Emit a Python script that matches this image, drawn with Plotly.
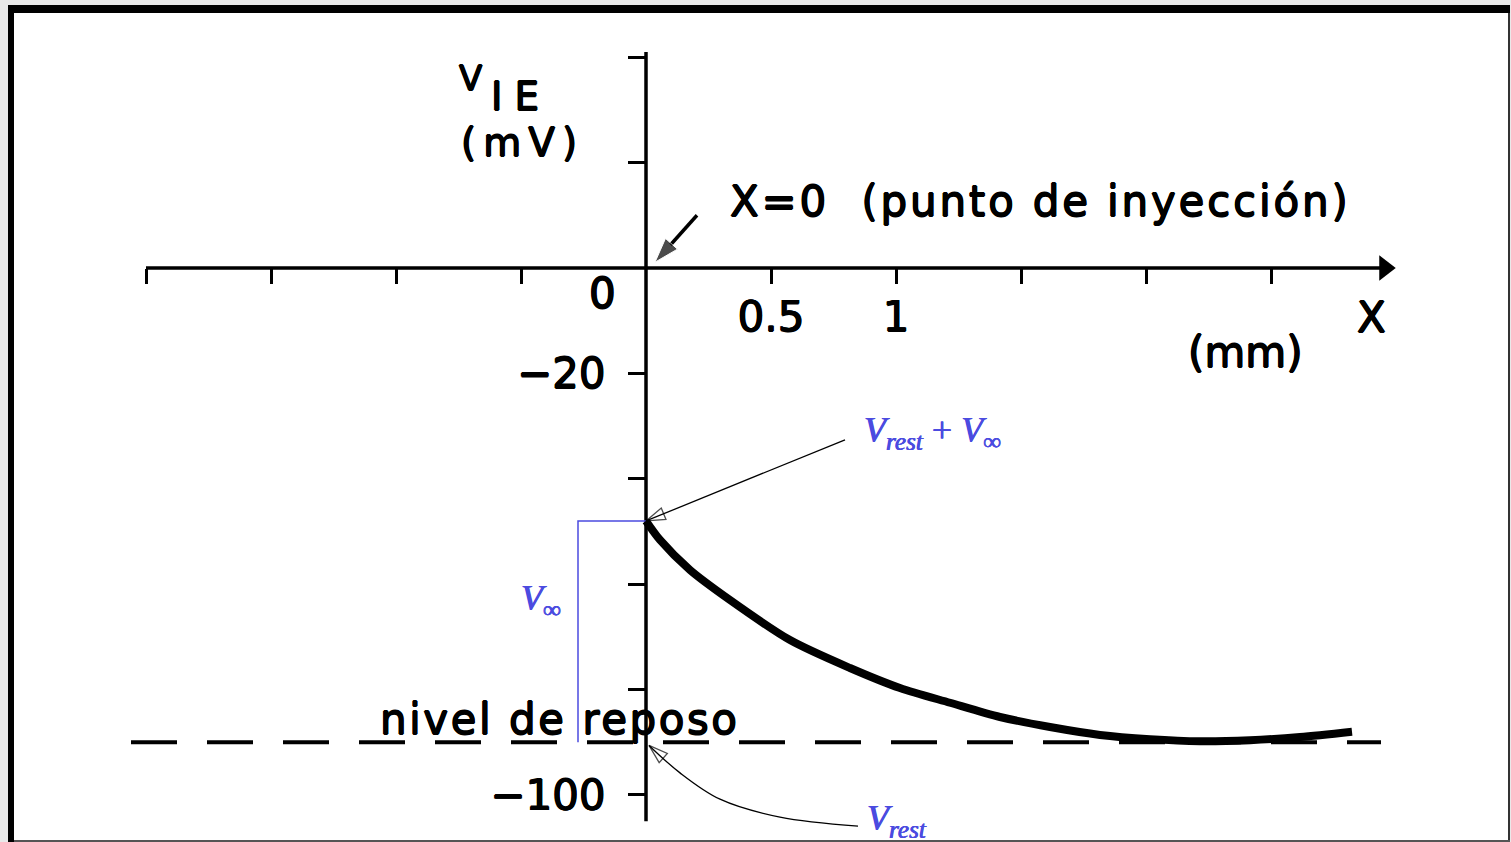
import plotly.graph_objects as go

W, H = 1511, 842

# ---- data: steady-state membrane potential along the fibre ----
V_REST = -90          # mV, resting level
V_INF = 42            # mV, depolarisation at the injection point
dist_mm = [0.0, 0.056, 0.176, 0.336, 0.576, 0.816, 1.016, 1.216, 1.416,
           1.616, 1.816, 2.016, 2.216, 2.416, 2.616, 2.824]
v_ie = [-48.0, -51.6, -57.3, -63.0, -70.6, -75.9, -79.7, -82.5, -85.2,
        -87.1, -88.6, -89.4, -89.8, -89.6, -89.0, -88.0]

# axis ticks and labels
x_label_ticks = [0.5, 1.0]
x_label_text = ["0.5", "1"]
x_plain_ticks = [-2.0, -1.5, -1.0, -0.5, 1.5, 2.0, 2.5]
y_label_ticks = [-20, -100]
y_label_text = ["\u221220", "\u2212100"]
y_plain_ticks = [40, 20, -40, -60, -80]

# extents of the drawn axes
x_axis_span = [-2.0, 2.955]
y_axis_span = [41, -105]
rest_span = [-2.06, 2.94]
bracket_x = -0.272

# arrow towards the origin (tail, tip)
origin_arrow_x = [0.204, 0.036]
origin_arrow_y = [10.0, 1.1]
# arrow towards the top of the profile (tail, tip)
peak_arrow_x = [0.796, 0.0]
peak_arrow_y = [-32.6, V_REST + V_INF]
# curved pointer from the V_rest label back to the resting level
pointer_x = [0.848, 0.536, 0.296, 0.136, 0.012]
pointer_y = [-105.9, -104.2, -100.8, -95.8, -90.6]

# ---- plotting ranges (whole canvas is the plotting area) ----
X_RANGE = [-2.584, 3.46]
Y_RANGE = [-108.92, 50.85]

FONT = "DejaVu Sans"
BLUE = "#4b4be0"
BOLDEN = ("0.7px 0 0 black, -0.7px 0 0 black, "
          "0 0.7px 0 black, 0 -0.7px 0 black")
BOLDEN_BLUE = "0.4px 0 0 #4b4be0, -0.4px 0 0 #4b4be0"


def fx(px):
    return px / W


def fy(py):
    return 1 - py / H


def spaced(text, px):
    return f'<span style="letter-spacing:{px}px">{text}</span>'


fig = go.Figure()

# resting level
fig.add_trace(go.Scatter(
    x=rest_span, y=[V_REST, V_REST], mode="lines",
    line=dict(color="black", width=4, dash="46px,30px"), hoverinfo="skip"))

# axis lines
fig.add_trace(go.Scatter(
    x=x_axis_span, y=[0, 0], mode="lines",
    line=dict(color="black", width=3.5), hoverinfo="skip"))
fig.add_trace(go.Scatter(
    x=[x_axis_span[1]], y=[0], mode="markers",
    marker=dict(symbol="triangle-right", size=22, color="black"),
    hoverinfo="skip"))
fig.add_trace(go.Scatter(
    x=[0, 0], y=y_axis_span, mode="lines",
    line=dict(color="black", width=3.5), hoverinfo="skip"))

# V_inf bracket
fig.add_trace(go.Scatter(
    x=[0, bracket_x, bracket_x], y=[V_REST + V_INF, V_REST + V_INF, V_REST],
    mode="lines", line=dict(color=BLUE, width=1.5), hoverinfo="skip"))

# potential profile
fig.add_trace(go.Scatter(
    x=dist_mm, y=v_ie, mode="lines",
    line=dict(color="black", width=8, shape="spline", smoothing=0.8),
    hoverinfo="skip"))

# arrows
fig.add_trace(go.Scatter(
    x=origin_arrow_x, y=origin_arrow_y, mode="lines+markers",
    line=dict(color="black", width=3.5),
    marker=dict(symbol="arrow", size=[0, 26], color="black", angleref="previous"),
    hoverinfo="skip"))
fig.add_trace(go.Scatter(
    x=peak_arrow_x, y=peak_arrow_y, mode="lines+markers",
    line=dict(color="black", width=1.3, backoff=0),
    marker=dict(symbol="arrow-open", size=[0, 20], color="black",
                line=dict(color="black", width=1.3), angleref="previous"),
    hoverinfo="skip"))
fig.add_trace(go.Scatter(
    x=pointer_x, y=pointer_y, mode="lines+markers",
    line=dict(color="black", width=1.3, shape="spline", backoff=0),
    marker=dict(symbol="arrow-open", size=[0, 0, 0, 0, 20], color="black",
                line=dict(color="black", width=1.3), angleref="previous"),
    hoverinfo="skip"))

txt = dict(family=FONT, size=42, color="black", shadow=BOLDEN)
serif = dict(family="Liberation Serif", size=36, color=BLUE, shadow=BOLDEN_BLUE)

annotations = [
    # y-axis title
    dict(x=-0.704, y=36.0, text="V", showarrow=False,
         font=dict(family=FONT, size=34, color="black", shadow=BOLDEN),
         xanchor="center", yanchor="middle"),
    dict(x=-0.628, y=32.6, text=spaced("IE", 12), showarrow=False,
         font=dict(family=FONT, size=39, color="black", shadow=BOLDEN),
         xanchor="left", yanchor="middle"),
    dict(x=-0.496, y=23.8, text=spaced("(mV)", 7), showarrow=False,
         font=dict(family=FONT, size=39, color="black", shadow=BOLDEN),
         xanchor="center", yanchor="middle"),
    # origin label
    dict(x=-0.176, y=-4.8, text="0", showarrow=False, font=txt,
         xanchor="center", yanchor="middle"),
    # x-axis name and unit
    dict(x=2.9, y=-9.3, text="X", showarrow=False, font=txt,
         xanchor="center", yanchor="middle"),
    dict(x=2.396, y=-16.0, text="(mm)", showarrow=False, font=txt,
         xanchor="center", yanchor="middle"),
    # injection point
    dict(x=0.328, y=12.6, text=spaced("X=0  (punto de inyección)", 2.8),
         showarrow=False, font=txt, xanchor="left", yanchor="middle"),
    # resting level label
    dict(x=-1.072, y=-85.6, text=spaced("nivel de reposo", 2.5),
         showarrow=False, font=txt, xanchor="left", yanchor="middle"),
    # blue symbolic labels
    dict(x=0.864, y=-31.2,
         text="<i>V<sub>rest</sub></i> + <i>V</i><sub>\u221e</sub>",
         showarrow=False, font=serif, xanchor="left", yanchor="middle"),
    dict(x=-0.42, y=-63.0, text="<i>V</i><sub>\u221e</sub>",
         showarrow=False, font=serif, xanchor="center", yanchor="middle"),
    dict(x=0.876, y=-104.9, text="<i>V<sub>rest</sub></i>",
         showarrow=False, font=serif, xanchor="left", yanchor="middle"),
]

# window frame
shapes = [
    dict(type="rect", xref="paper", yref="paper", x0=fx(14), x1=fx(1508),
         y0=fy(840), y1=fy(13), fillcolor="white", line_width=0, layer="below"),
    dict(type="rect", xref="paper", yref="paper", x0=fx(8), x1=fx(1510),
         y0=fy(13), y1=fy(5), fillcolor="black", line_width=0, layer="below"),
    dict(type="rect", xref="paper", yref="paper", x0=fx(8), x1=fx(14),
         y0=fy(842), y1=fy(5), fillcolor="black", line_width=0, layer="below"),
    dict(type="rect", xref="paper", yref="paper", x0=fx(1508), x1=fx(1510),
         y0=fy(842), y1=fy(13), fillcolor="#333333", line_width=0, layer="below"),
    dict(type="rect", xref="paper", yref="paper", x0=fx(14), x1=fx(1510),
         y0=fy(842), y1=fy(840), fillcolor="#555555", line_width=0, layer="below"),
]

x_pos = (0 - Y_RANGE[0]) / (Y_RANGE[1] - Y_RANGE[0])
y_pos = (0 - X_RANGE[0]) / (X_RANGE[1] - X_RANGE[0])

fig.update_layout(
    width=W, height=H,
    margin=dict(l=0, r=0, t=0, b=0),
    paper_bgcolor="#e9e9e9",
    plot_bgcolor="rgba(0,0,0,0)",
    showlegend=False,
    annotations=annotations,
    shapes=shapes,
    xaxis=dict(
        range=X_RANGE, anchor="free", position=x_pos, side="bottom",
        showline=False, showgrid=False, zeroline=False,
        tickmode="array", tickvals=x_label_ticks, ticktext=x_label_text,
        ticks="outside", ticklen=15, tickwidth=3, tickcolor="black",
        ticklabelstandoff=-3, tickfont=txt,
        minor=dict(tickmode="array", tickvals=x_plain_ticks, ticks="outside",
                   ticklen=15, tickwidth=3, tickcolor="black", showgrid=False),
    ),
    yaxis=dict(
        range=Y_RANGE, anchor="free", position=y_pos, side="left",
        showline=False, showgrid=False, zeroline=False,
        tickmode="array", tickvals=y_label_ticks, ticktext=y_label_text,
        ticks="outside", ticklen=18, tickwidth=3, tickcolor="black",
        ticklabelstandoff=14, tickfont=txt,
        minor=dict(tickmode="array", tickvals=y_plain_ticks, ticks="outside",
                   ticklen=18, tickwidth=3, tickcolor="black", showgrid=False),
    ),
)

fig.write_html("out.html")
